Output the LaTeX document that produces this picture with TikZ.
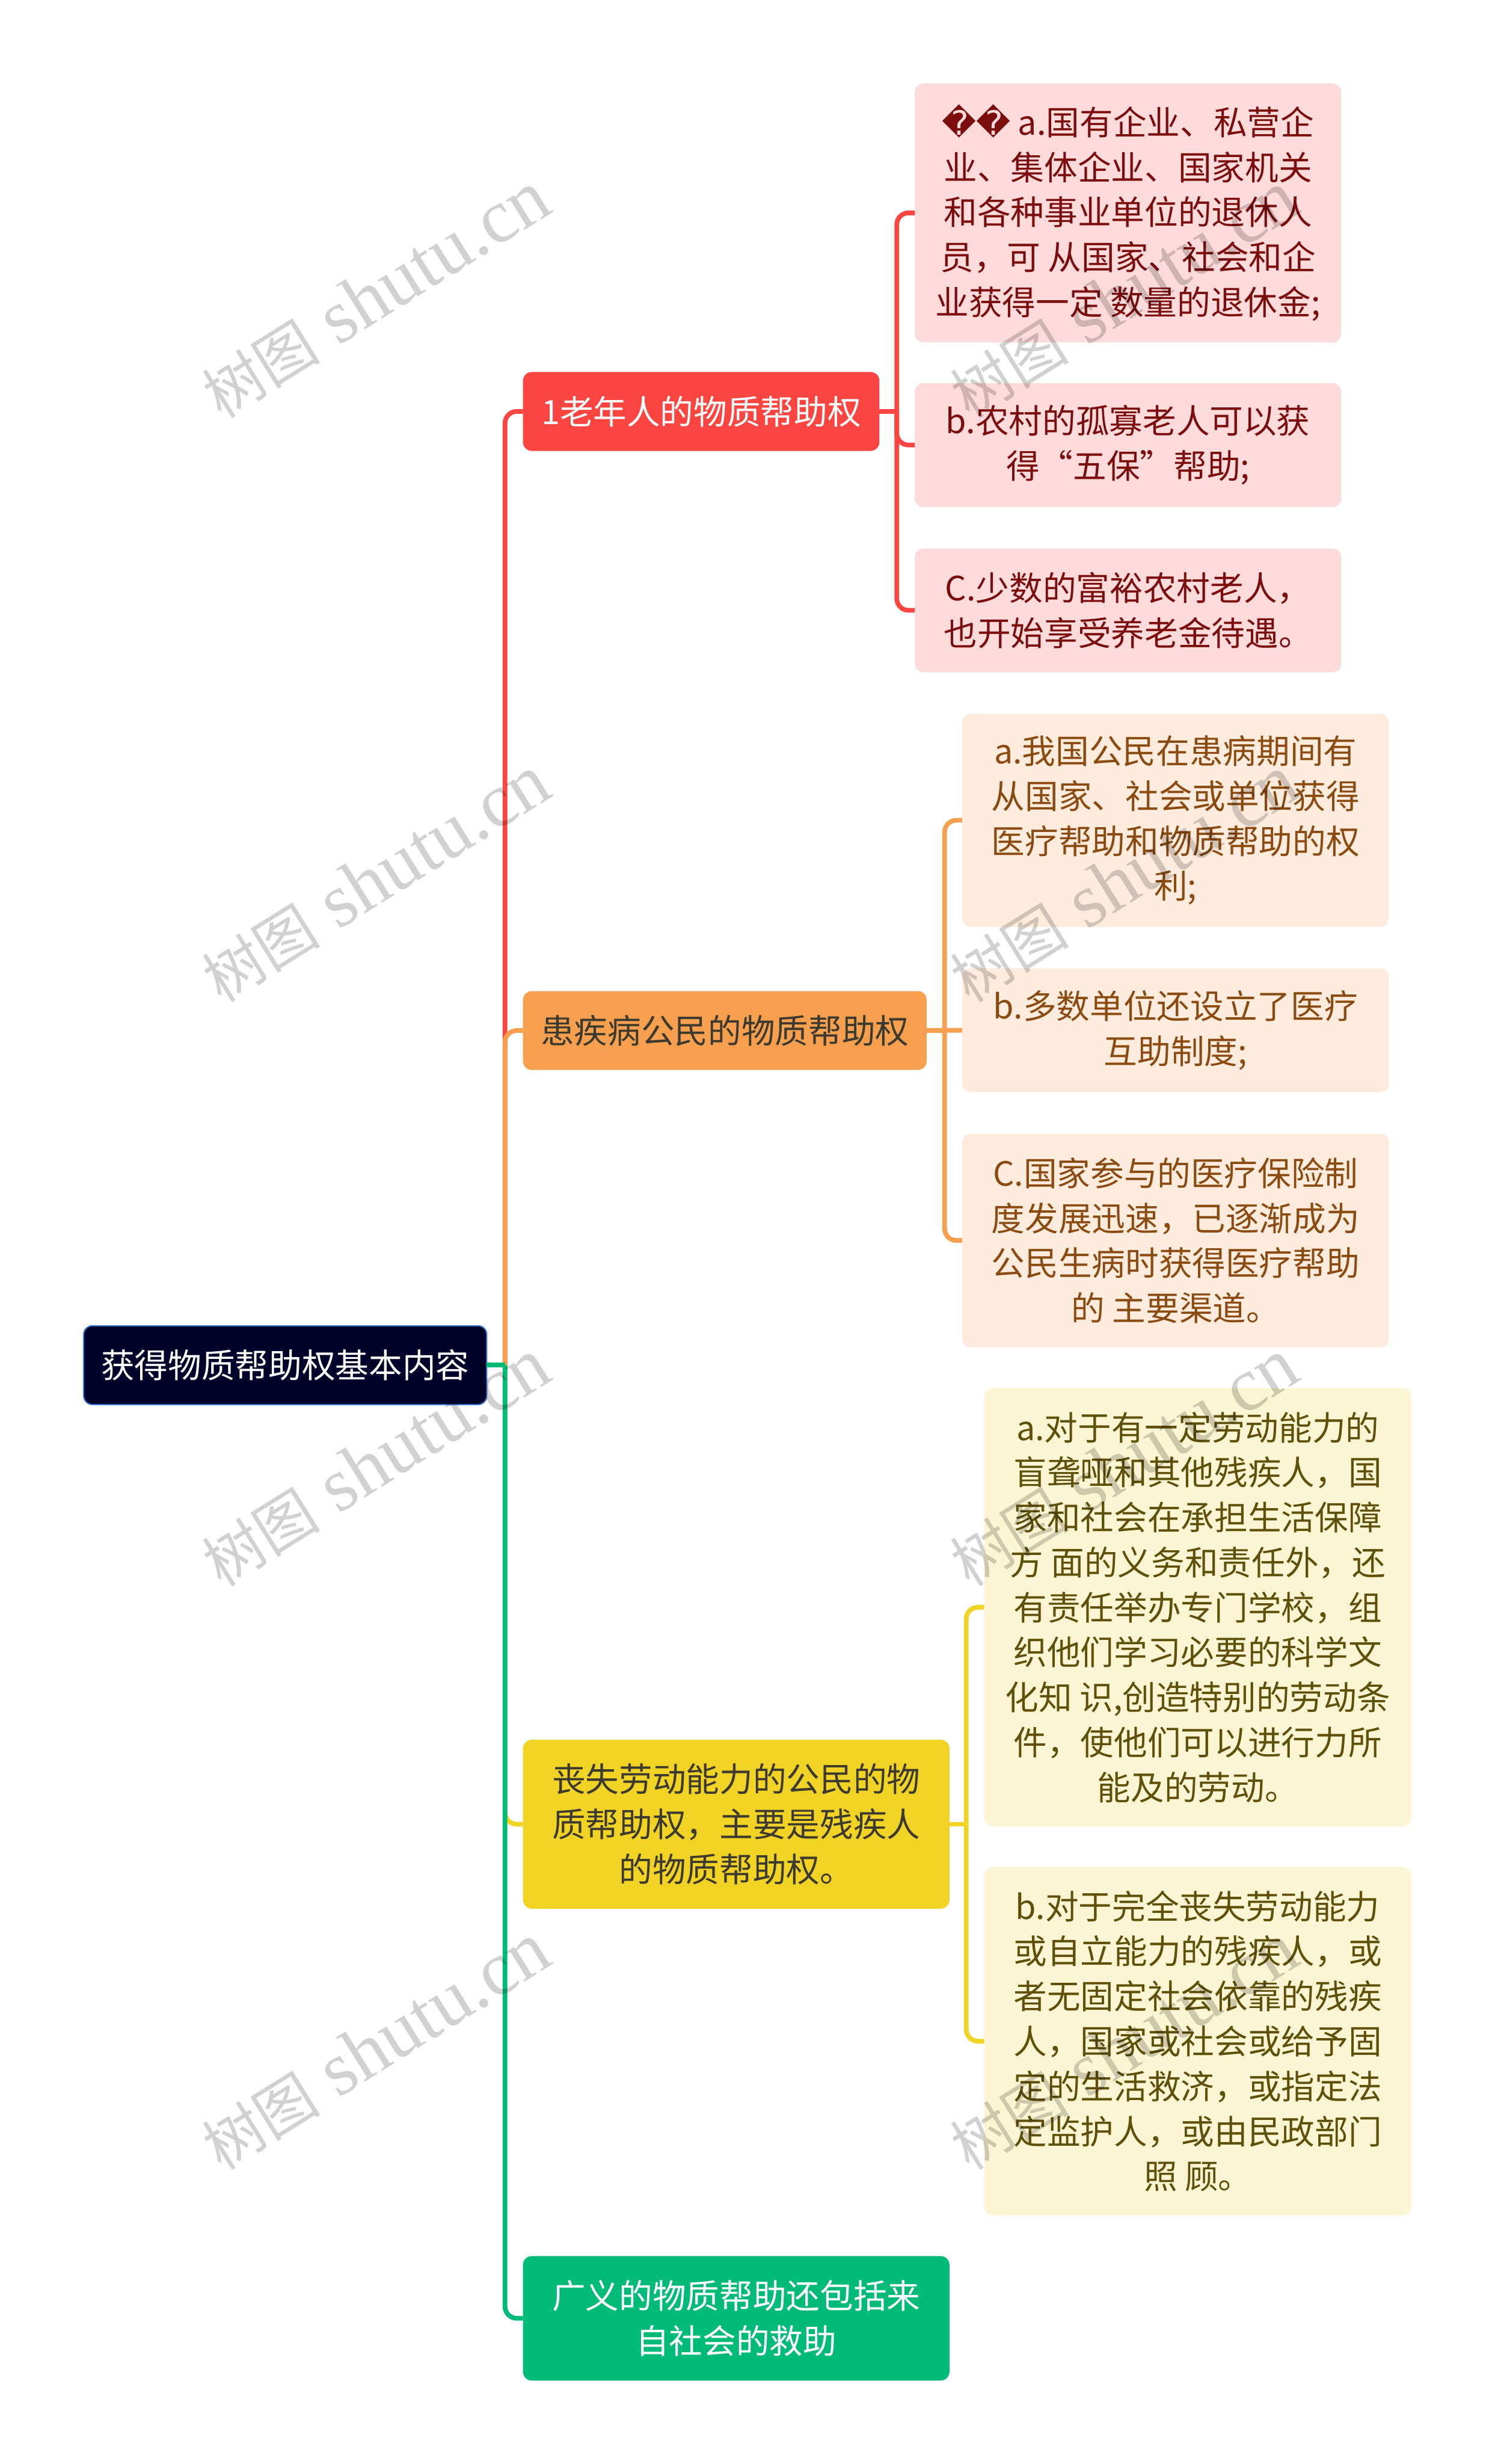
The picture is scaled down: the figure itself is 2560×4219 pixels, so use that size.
\documentclass[tikz,border=0pt]{standalone}
\usepackage{fontspec}
\setmainfont{Noto Sans CJK SC}
\newfontfamily\dejavu{DejaVu Sans}
\newfontfamily\markfont{Liberation Serif}
\definecolor{rootfill}{HTML}{000229}
\definecolor{rootedge}{HTML}{3C78D8}
\definecolor{redmain}{HTML}{FB4540}
\definecolor{redpale}{HTML}{FDDBDB}
\definecolor{redtext}{HTML}{7C0D0D}
\definecolor{orangemain}{HTML}{F59F4F}
\definecolor{orangepale}{HTML}{FDECDD}
\definecolor{orangetext}{HTML}{8B4A0F}
\definecolor{yellowmain}{HTML}{F1D326}
\definecolor{yellowpale}{HTML}{FBF5D3}
\definecolor{yellowtext}{HTML}{5F5009}
\definecolor{greenmain}{HTML}{00BA78}
\definecolor{darktext}{HTML}{3C3A2E}
\tikzset{
    item/.style={rounded corners=0.15cm, inner sep=0pt, outer sep=0pt, align=center,
        font=\fontsize{16.3}{21.9}\selectfont},
    mainbox/.style={item, minimum height=1.35cm},
    leafred/.style={item, fill=redpale, text=redtext, minimum width=7.3cm},
    leaforange/.style={item, fill=orangepale, text=orangetext, minimum width=7.31cm},
    leafyellow/.style={item, fill=yellowpale, text=yellowtext, minimum width=7.31cm},
    wire/.style={line width=0.08cm, rounded corners=0.2cm}
}
\begin{document}
\begin{tikzpicture}[x=0.01cm, y=-0.01cm]
    \useasboundingbox (0,0) rectangle (2560,4219);
    \coordinate (bus0) at (865,0);
    \coordinate (bus1) at (1536,0);
    \coordinate (bus2) at (1618,0);
    \coordinate (bus3) at (1655,0);

    \node[mainbox, draw=rootedge, line width=0.02cm, fill=rootfill, text=white, minimum width=6.9cm] (root) at (488.5,2337.5) {获得物质帮助权基本内容};

    \node[mainbox, fill=redmain, text=white, minimum width=6.1cm] (box1) at (1201,704.5) {1老年人的物质帮助权};
    \node[mainbox, fill=orangemain, text=darktext, minimum width=6.91cm] (box2) at (1241.5,1764.5) {患疾病公民的物质帮助权};
    \node[item, fill=yellowmain, text=darktext, minimum width=7.3cm, minimum height=2.89cm] (box3) at (1261,3123.5) {丧失劳动能力的公民的物\\质帮助权，主要是残疾人\\的物质帮助权。};
    \node[item, fill=greenmain, text=white, minimum width=7.3cm, minimum height=2.13cm] (box4) at (1261,3969.5) {广义的物质帮助还包括来\\自社会的救助};

    \node[leafred, minimum height=4.43cm] (box1a) at (1932,364.5) {{\dejavu ��} a.国有企业、私营企\\业、集体企业、国家机关\\和各种事业单位的退休人\\员，可 从国家、社会和企\\业获得一定 数量的退休金;};
    \node[leafred, minimum height=2.12cm] (box1b) at (1932,762) {b.农村的孤寡老人可以获\\得“五保”帮助;};
    \node[leafred, minimum height=2.12cm] (box1c) at (1932,1045) {C.少数的富裕农村老人，\\也开始享受养老金待遇。};

    \node[leaforange, minimum height=3.65cm] (box2a) at (2013.5,1404.5) {a.我国公民在患病期间有\\从国家、社会或单位获得\\医疗帮助和物质帮助的权\\利;};
    \node[leaforange, minimum height=2.12cm] (box2b) at (2013.5,1764) {b.多数单位还设立了医疗\\互助制度;};
    \node[leaforange, minimum height=3.66cm] (box2c) at (2013.5,2124) {C.国家参与的医疗保险制\\度发展迅速，已逐渐成为\\公民生病时获得医疗帮助\\的 主要渠道。};

    \node[leafyellow, minimum height=7.5cm] (box3a) at (2051.5,2752) {a.对于有一定劳动能力的\\盲聋哑和其他残疾人，国\\家和社会在承担生活保障\\方 面的义务和责任外，还\\有责任举办专门学校，组\\织他们学习必要的科学文\\化知 识,创造特别的劳动条\\件，使他们可以进行力所\\能及的劳动。};
    \node[leafyellow, minimum height=5.96cm] (box3b) at (2051.5,3495) {b.对于完全丧失劳动能力\\或自立能力的残疾人，或\\者无固定社会依靠的残疾\\人，国家或社会或给予固\\定的生活救济，或指定法\\定监护人，或由民政部门\\照 顾。};

    % main lines
    \draw[wire, redmain] (bus0 |- root) |- (box1.west);
    \draw[wire, orangemain] (bus0 |- root) |- (box2.west);
    \draw[wire, yellowmain] (bus0 |- root) |- (box3.west);
    \draw[wire, greenmain] (bus0 |- root) |- (box4.west);
    \draw[wire, greenmain] (root.east) -- (bus0 |- root);

    % first group
    \draw[wire, redmain] (box1.east) -- (bus1 |- box1);
    \draw[wire, redmain] (bus1 |- box1) |- (box1a.west);
    \draw[wire, redmain] (bus1 |- box1) |- (box1b.west);
    \draw[wire, redmain] (bus1 |- box1) |- (box1c.west);

    % second group
    \draw[wire, orangemain] (box2.east) -- (box2b.west);
    \draw[wire, orangemain] (bus2 |- box2) |- (box2a.west);
    \draw[wire, orangemain] (bus2 |- box2) |- (box2c.west);

    % third group
    \draw[wire, yellowmain] (box3.east) -- (bus3 |- box3);
    \draw[wire, yellowmain] (bus3 |- box3) |- (box3a.west);
    \draw[wire, yellowmain] (bus3 |- box3) |- (box3b.west);

    % watermark
    \foreach \mx in {643,1925} {
        \foreach \my in {505,1505,2505,3505} {
            \node[blend mode=multiply, text=black!18, rotate=32, inner sep=0pt, font=\markfont\fontsize{37}{37}\selectfont] at (\mx,\my) {{\rmfamily\fontsize{29}{29}\selectfont 树图} shutu.cn};
        }
    }
\end{tikzpicture}
\end{document}
